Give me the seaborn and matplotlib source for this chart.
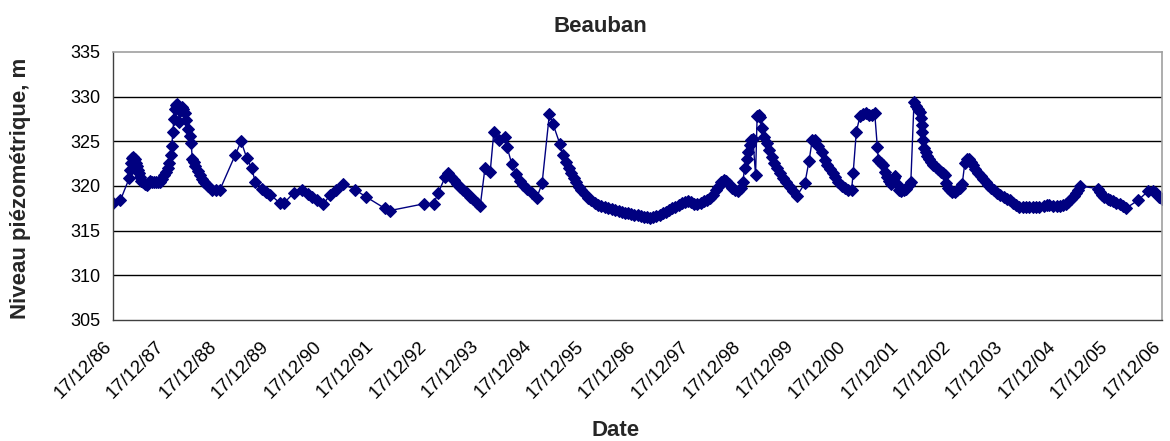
import numpy as np
import pandas as pd
import matplotlib
matplotlib.use("Agg")
import matplotlib.pyplot as plt
import matplotlib.dates as mdates
import matplotlib.transforms as mtransforms
from matplotlib.ticker import FixedLocator
import seaborn as sns

# ---- data: decimal years and piezometric level (m) ----
years = [
    1986.95, 1987.10, 1987.27, 1987.29, 1987.31, 1987.33, 1987.35, 1987.37, 1987.39, 1987.41,
    1987.43, 1987.45, 1987.47, 1987.50, 1987.53, 1987.56, 1987.60, 1987.63, 1987.66, 1987.70,
    1987.74, 1987.78, 1987.82, 1987.86, 1987.90, 1987.94, 1987.97, 1988.00, 1988.03, 1988.06,
    1988.08, 1988.10, 1988.12, 1988.14, 1988.16, 1988.18, 1988.20, 1988.22, 1988.24, 1988.27,
    1988.30, 1988.33, 1988.36, 1988.39, 1988.42, 1988.45, 1988.47, 1988.50, 1988.53, 1988.57,
    1988.61, 1988.65, 1988.69, 1988.73, 1988.77, 1988.85, 1988.92, 1988.99,
    1989.29, 1989.40, 1989.51, 1989.60, 1989.67, 1989.80, 1989.88, 1989.96, 1990.14, 1990.22,
    1990.40, 1990.56, 1990.68, 1990.76, 1990.84, 1990.97, 1991.10, 1991.22, 1991.35, 1991.57,
    1991.78, 1992.14, 1992.24,
    1992.88, 1993.07, 1993.16, 1993.29, 1993.35, 1993.40, 1993.45, 1993.52, 1993.58, 1993.64,
    1993.71, 1993.77, 1993.83, 1993.90, 1993.96, 1994.05, 1994.15, 1994.22, 1994.31, 1994.43,
    1994.47, 1994.56, 1994.64, 1994.72, 1994.78, 1994.85, 1994.94, 1995.04, 1995.14, 1995.28,
    1995.35, 1995.48, 1995.53,
    1995.60, 1995.66, 1995.70, 1995.74, 1995.79, 1995.84, 1995.89, 1995.95, 1996.02, 1996.08,
    1996.15, 1996.21, 1996.27, 1996.34, 1996.40, 1996.47, 1996.53, 1996.60, 1996.66, 1996.72,
    1996.78, 1996.84, 1996.90, 1996.96, 1997.02, 1997.08, 1997.14, 1997.20, 1997.26, 1997.32,
    1997.38, 1997.44, 1997.50, 1997.56, 1997.62, 1997.68, 1997.74, 1997.80, 1997.86, 1997.92,
    1997.98, 1998.04, 1998.10, 1998.16, 1998.22, 1998.28, 1998.34, 1998.40, 1998.45, 1998.50,
    1998.55, 1998.60, 1998.65, 1998.70, 1998.76, 1998.82, 1998.88, 1998.93, 1998.97, 1999.00,
    1999.04, 1999.07, 1999.10, 1999.13, 1999.16, 1999.21, 1999.24, 1999.27, 1999.30, 1999.33,
    1999.37, 1999.42, 1999.47, 1999.52, 1999.57, 1999.62, 1999.67, 1999.73, 1999.79, 1999.86,
    1999.93, 2000.00, 2000.15, 2000.23, 2000.29, 2000.34, 2000.40, 2000.47, 2000.53, 2000.58,
    2000.63, 2000.68, 2000.73, 2000.79, 2000.85, 2000.92, 2000.98, 2001.04, 2001.07, 2001.13,
    2001.20, 2001.26, 2001.32, 2001.38, 2001.43, 2001.48, 2001.53, 2001.55, 2001.60, 2001.64,
    2001.67, 2001.72, 2001.76, 2001.80, 2001.84, 2001.87, 2001.90, 2001.94, 2001.98, 2002.03,
    2002.08, 2002.13, 2002.17, 2002.23,
    2002.27, 2002.31, 2002.34, 2002.36, 2002.38, 2002.39, 2002.41, 2002.43, 2002.45, 2002.48,
    2002.52, 2002.56, 2002.60, 2002.65, 2002.69, 2002.74, 2002.79, 2002.83, 2002.85, 2002.87,
    2002.91, 2002.96, 2003.01, 2003.06, 2003.11, 2003.15, 2003.20, 2003.24, 2003.28, 2003.32,
    2003.36, 2003.40, 2003.45, 2003.50, 2003.55, 2003.60, 2003.65, 2003.70, 2003.76, 2003.82,
    2003.88, 2003.94, 2004.00, 2004.06, 2004.12, 2004.18, 2004.24, 2004.30, 2004.36, 2004.43,
    2004.50, 2004.56, 2004.62, 2004.70, 2004.76, 2004.81, 2004.88, 2004.95, 2005.02, 2005.07,
    2005.12, 2005.17, 2005.23, 2005.28, 2005.32, 2005.36, 2005.39, 2005.74, 2005.78, 2005.82,
    2005.86, 2005.92, 2005.97, 2006.02, 2006.08, 2006.15, 2006.21, 2006.27, 2006.50, 2006.69,
    2006.78, 2006.85, 2006.90, 2006.95, 2006.98,
]
levels = [
    318.1, 318.4, 320.9, 321.8, 322.6, 323.1, 323.3, 323.0, 322.6, 322.2,
    321.8, 321.4, 321.0, 320.6, 320.4, 320.2, 320.1, 320.3, 320.6, 320.5,
    320.4, 320.5, 320.4, 320.5, 320.8, 321.2, 321.6, 322.0, 322.6, 323.5,
    324.5, 326.0, 327.5, 328.6, 329.1, 329.2, 329.0, 327.2, 328.4, 328.8,
    328.6, 328.2, 327.4, 326.4, 325.6, 324.8, 323.0, 322.7, 322.2, 321.7,
    321.2, 320.8, 320.5, 320.2, 320.0, 319.5, 319.5, 319.5,
    323.5, 325.0, 323.1, 322.0, 320.5, 319.7, 319.3, 319.0, 318.1, 318.1,
    319.2, 319.6, 319.1, 318.8, 318.4, 318.0, 319.0, 319.6, 320.2, 319.6,
    318.8, 317.5, 317.25,
    318.0, 318.0, 319.25, 321.0, 321.4, 321.0, 320.7, 320.2, 319.9, 319.5,
    319.2, 318.8, 318.5, 318.1, 317.8, 322.0, 321.6, 326.1, 325.2, 325.5,
    324.4, 322.5, 321.3, 320.6, 320.1, 319.7, 319.2, 318.7, 320.3, 328.1,
    326.9, 324.7, 323.5,
    322.7, 322.0, 321.4, 320.9, 320.4, 319.9, 319.5, 319.1, 318.7, 318.4,
    318.1, 317.9, 317.8, 317.6, 317.5, 317.4, 317.3, 317.2, 317.1, 317.0,
    316.95, 316.9, 316.8, 316.7, 316.6, 316.5, 316.5, 316.4, 316.5, 316.6,
    316.8, 317.0, 317.1, 317.3, 317.5, 317.7, 317.9, 318.1, 318.2, 318.3,
    318.2, 318.0, 318.0, 318.1, 318.3, 318.4, 318.7, 319.0, 319.5, 319.9,
    320.4, 320.7, 320.6, 320.2, 319.8, 319.6, 319.4, 319.8, 320.5, 322.0,
    323.0, 323.8, 324.6, 325.2, 325.3, 321.2, 327.8, 327.9, 327.7, 326.5,
    325.5, 324.8, 324.0, 323.2, 322.6, 322.0, 321.4, 320.9, 320.4, 319.9,
    319.4, 318.9, 320.3, 322.8, 325.15, 325.2, 324.5, 323.8, 322.9, 322.4,
    321.9, 321.4, 321.0, 320.5, 320.0, 319.8, 319.6, 319.6, 321.5, 326.1,
    327.8, 328.1, 328.2, 328.0, 327.9, 328.2, 324.4, 322.9, 322.6, 322.3,
    321.6, 321.0, 320.6, 320.2, 320.9, 321.1, 320.2, 319.6, 319.4, 319.5,
    319.7, 320.1, 320.5, 329.4,
    329.0, 328.6, 328.3, 327.6, 326.8, 326.0, 325.2, 324.3, 323.8, 323.4,
    323.0, 322.7, 322.4, 322.1, 321.9, 321.6, 321.4, 321.2, 320.3, 319.8,
    319.5, 319.3, 319.3, 319.5, 319.8, 320.2, 322.6, 323.0, 323.0, 322.7,
    322.3, 321.9, 321.5, 321.1, 320.8, 320.4, 320.1, 319.8, 319.5, 319.2,
    319.0, 318.8, 318.6, 318.4, 318.1, 317.9, 317.7, 317.7, 317.6, 317.6,
    317.6, 317.6, 317.6, 317.8, 317.9, 317.9, 317.8, 317.8, 317.8, 317.9,
    318.0, 318.2, 318.5, 318.9, 319.2, 319.6, 320.0, 319.7, 319.3, 319.0,
    318.8, 318.6, 318.4, 318.3, 318.1, 318.0, 317.8, 317.5, 318.4, 319.4,
    319.4, 319.2, 318.8, 318.5, 318.5,
]
tick_years = list(range(1986, 2007))
y_ticks = [305, 310, 315, 320, 325, 330, 335]
title = "Beauban"
x_label = "Date"
y_label = "Niveau piézométrique, m"


def to_date(y):
    yr = int(np.floor(y))
    start = pd.Timestamp(year=yr, month=1, day=1)
    end = pd.Timestamp(year=yr + 1, month=1, day=1)
    return start + (end - start) * (y - yr)


df = pd.DataFrame({"date": [to_date(v) for v in years], "level": levels})
tick_dates = [pd.Timestamp(year=y, month=12, day=17) for y in tick_years]

sns.set_style("white")
plt.rcParams["font.family"] = ["Liberation Sans", "DejaVu Sans"]

W, H = 1170, 441
fig = plt.figure(figsize=(W / 100, H / 100), dpi=100)
ax = fig.add_axes([113 / W, 1 - 320 / H, (1162 - 113) / W, (320 - 52) / H])

navy = "#000080"
sns.lineplot(data=df, x="date", y="level", ax=ax, color=navy, linewidth=1.0,
             marker="D", markersize=6.2, markeredgecolor=navy, markerfacecolor=navy,
             estimator=None, sort=False)

ax.set_ylim(305, 335)
ax.set_xlim(tick_dates[0], tick_dates[-1])
ax.yaxis.set_major_locator(FixedLocator(y_ticks))
ax.xaxis.set_major_locator(FixedLocator(mdates.date2num(tick_dates)))
ax.xaxis.set_major_formatter(mdates.DateFormatter("%d/%m/%y"))

for yv in y_ticks[1:-1]:
    ax.axhline(yv, color="black", linewidth=1.0, zorder=0)

for side in ["top", "right"]:
    ax.spines[side].set_color("#a0a0a0")
    ax.spines[side].set_linewidth(1.2)
for side in ["left", "bottom"]:
    ax.spines[side].set_color("#404040")
    ax.spines[side].set_linewidth(1.0)

ax.tick_params(axis="both", direction="out", length=5, width=1, color="#404040",
               labelcolor="black")
ax.tick_params(axis="y", pad=4, labelsize=13)
ax.tick_params(axis="x", pad=12, labelsize=13.5)
offset = mtransforms.ScaledTranslation(-4 / 100, 0, fig.dpi_scale_trans)
for lab in ax.get_xticklabels():
    lab.set_rotation(45)
    lab.set_ha("right")
    lab.set_va("center")
    lab.set_rotation_mode("anchor")
    lab.set_transform(lab.get_transform() + offset)

ax.set_xlabel("")
ax.set_ylabel("")
fig.text(600 / W, 1 - 27 / H, title, ha="center", va="center", fontsize=16, fontweight="bold")
fig.text(616 / W, 1 - 430 / H, x_label, ha="center", va="center", fontsize=16, fontweight="bold")
fig.text(21 / W, 1 - 188 / H, y_label, ha="center", va="center", rotation=90,
         fontsize=16, fontweight="bold")

fig.savefig("out.png", dpi=100)
